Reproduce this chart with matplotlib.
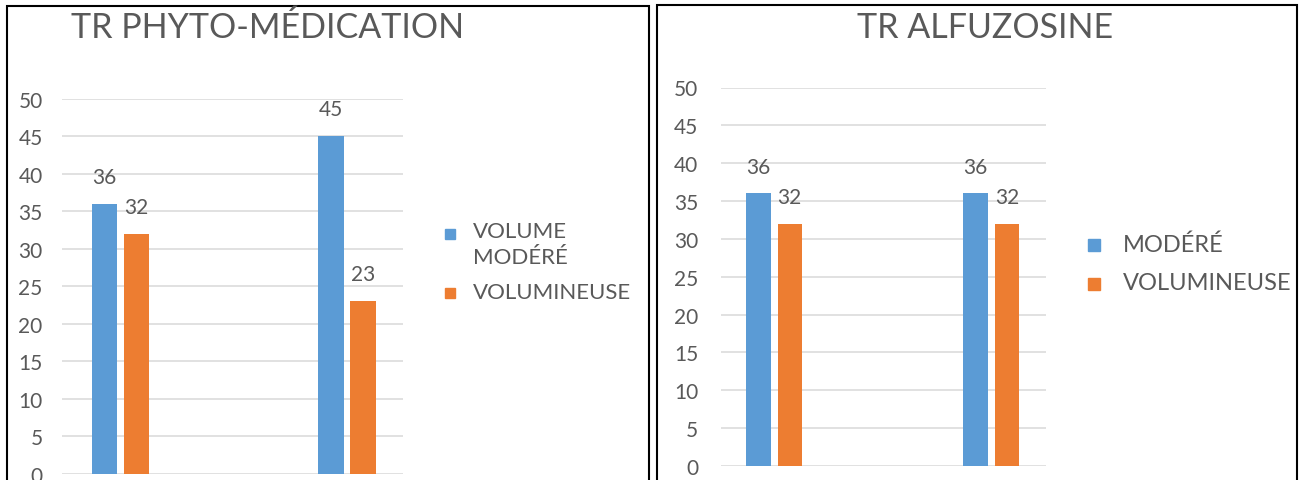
import matplotlib
matplotlib.use("Agg")
import matplotlib.pyplot as plt
from matplotlib.patches import Rectangle

# ---- data -------------------------------------------------------------
groups = ["Groupe 1", "Groupe 2"]

phyto_title = "TR PHYTO-MÉDICATION"
phyto_labels = ["VOLUME\nMODÉRÉ", "VOLUMINEUSE"]
phyto_modere = [36, 45]
phyto_volumineuse = [32, 23]

alfu_title = "TR ALFUZOSINE"
alfu_labels = ["MODÉRÉ", "VOLUMINEUSE"]
alfu_modere = [36, 36]
alfu_volumineuse = [32, 32]

y_ticks = [0, 5, 10, 15, 20, 25, 30, 35, 40, 45, 50]

# ---- style ------------------------------------------------------------
BLUE = "#5B9BD5"
ORANGE = "#ED7D31"
TEXT = "#595959"
GRID = "#D9D9D9"
FONT = "Lato"

W, H = 1299, 481
DPI = 100
plt.rcParams["font.family"] = [FONT, "DejaVu Sans"]

fig = plt.figure(figsize=(W / DPI, H / DPI), dpi=DPI, facecolor="white")


def px_axes(x0, x1, y_top, y_bottom):
    """Axes placed by pixel edges (origin top-left)."""
    return fig.add_axes([x0 / W, (H - y_bottom) / H, (x1 - x0) / W, (y_bottom - y_top) / H])


def draw_panel(ax, modere, volum, xlim, width, offset, pad):
    x = range(len(groups))
    xb = [i - offset for i in x]
    xo = [i + offset for i in x]
    b1 = ax.bar(xb, modere, width=width, color=BLUE, zorder=3)
    b2 = ax.bar(xo, volum, width=width, color=ORANGE, zorder=3)
    for bars, vals in ((b1, modere), (b2, volum)):
        for rect, v in zip(bars, vals):
            ax.annotate(str(v), (rect.get_x() + rect.get_width() / 2, v),
                        xytext=(0, 15), textcoords="offset points",
                        ha="center", va="baseline", fontsize=15, color=TEXT)
    ax.set_xlim(*xlim)
    ax.set_ylim(0, 50)
    ax.set_yticks(y_ticks)
    ax.set_xticks([])
    ax.yaxis.grid(True, color=GRID, linewidth=1.1, zorder=0)
    ax.set_axisbelow(True)
    for s in ax.spines.values():
        s.set_visible(False)
    ax.tick_params(axis="y", length=0, pad=pad, labelsize=15, labelcolor=TEXT)


def legend_manual(entries, sq_x, sq_size, text_x, rows, size):
    for (label, color), (sq_y, txt_y) in zip(entries, rows):
        fig.patches.append(Rectangle((sq_x / W, (H - sq_y - sq_size / 2) / H),
                                     sq_size / W, sq_size / H, color=color,
                                     transform=fig.transFigure, figure=fig))
        fig.text(text_x / W, (H - txt_y) / H, label, fontsize=size, color=TEXT,
                 ha="left", va="top", linespacing=1.35)


# ---- left panel -------------------------------------------------------
ax1 = px_axes(62, 403, 99.5, 475)
draw_panel(ax1, phyto_modere, phyto_volumineuse,
           xlim=(-0.2586, 1.2486), width=0.113, offset=0.0707, pad=14)
fig.text(268 / W, (H - 38) / H, phyto_title, fontsize=24.5, color=TEXT,
         ha="center", va="baseline")
legend_manual([(phyto_labels[0], BLUE), (phyto_labels[1], ORANGE)],
              sq_x=445, sq_size=10, text_x=473,
              rows=[(235, 222), (294, 283)], size=16)

# ---- right panel ------------------------------------------------------
ax2 = px_axes(721, 1046, 88.5, 467)
draw_panel(ax2, alfu_modere, alfu_volumineuse,
           xlim=(-0.244, 1.252), width=0.1128, offset=0.0725, pad=16.5)
fig.text(985 / W, (H - 38) / H, alfu_title, fontsize=24.5, color=TEXT,
         ha="center", va="baseline")
legend_manual([(alfu_labels[0], BLUE), (alfu_labels[1], ORANGE)],
              sq_x=1088, sq_size=12, text_x=1123,
              rows=[(246, 235), (285, 273)], size=17)

# ---- panel frames -----------------------------------------------------
for x0, x1, top in ((7, 649, 7), (657, 1297, 6)):
    fig.patches.append(Rectangle((x0 / W, -0.05), (x1 - x0) / W, (H - top) / H + 0.05,
                                 fill=False, edgecolor="black", linewidth=1.5,
                                 transform=fig.transFigure, figure=fig, clip_on=False))

fig.savefig("out.png", dpi=DPI, facecolor="white")
